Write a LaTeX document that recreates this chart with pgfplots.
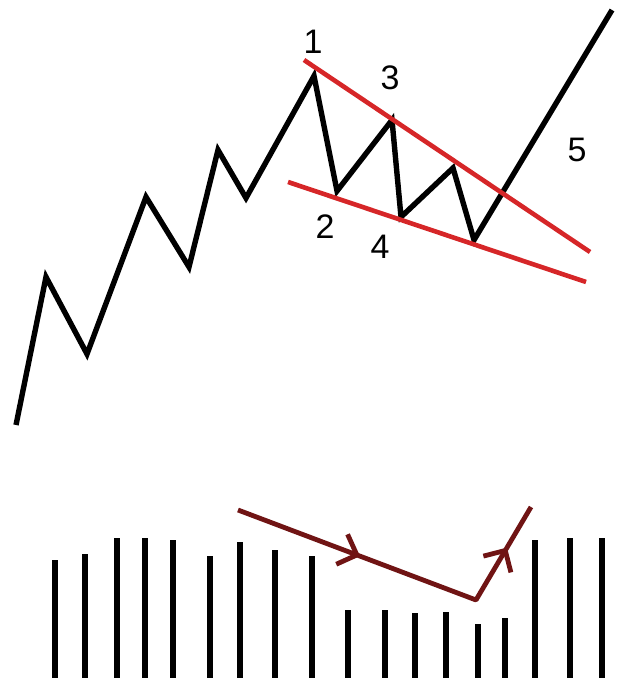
\documentclass[border=0pt]{standalone}
\usepackage{fontspec}
\setmainfont{Liberation Sans}
\usepackage{pgfplots}
\pgfplotsset{compat=1.18}
\usetikzlibrary{arrows.meta,decorations.markings}

\definecolor{trend}{RGB}{214,38,40}
\definecolor{volarrow}{RGB}{112,20,20}

\begin{document}
\begin{tikzpicture}
\begin{axis}[
    scale only axis,
    width=308.5pt, height=339pt,
    xmin=0, xmax=617, ymin=0, ymax=678,
    hide axis,
  ]
  % volume bars
  \addplot[ycomb, black, line width=2.6pt] coordinates {
    (55,118) (85,124) (117,140) (145,140) (173,138) (210,122)
    (240,136) (275,128) (312,122) (348,68) (385,68) (415,65)
    (446,66) (478,54) (505,60) (535,138) (570,140) (602,140)};
  % price path
  \addplot[black, line width=2.7pt, line join=miter] coordinates {
    (16,253) (46,401) (87,324) (146,481) (189,411) (218,528)
    (246,480) (314,602) (337,487) (392,558) (401,461) (453,510)
    (474,438) (612,668)};
  % wedge boundaries
  \addplot[trend, line width=2.3pt] coordinates {(304,618) (590,426)};
  \addplot[trend, line width=2.3pt] coordinates {(288,496) (586,396)};
  % volume trend arrow
  \addplot[volarrow, line width=2.4pt, line join=round,
    postaction={decorate},
    decoration={markings,
      mark=at position 0.36 with {\arrow{Straight Barb[length=8pt,width=16pt,line width=2.4pt]}},
      mark=at position 0.87 with {\arrow{Straight Barb[length=8pt,width=16pt,line width=2.4pt]}}}]
    coordinates {(238,168) (476,78) (531,171)};
  \node[font=\fontsize{17}{20}\selectfont] at (axis cs:313,636) {1};
  \node[font=\fontsize{17}{20}\selectfont] at (axis cs:390,600) {3};
  \node[font=\fontsize{17}{20}\selectfont] at (axis cs:577,528) {5};
  \node[font=\fontsize{17}{20}\selectfont] at (axis cs:325,451) {2};
  \node[font=\fontsize{17}{20}\selectfont] at (axis cs:380,431) {4};
  \coordinate (SW) at (rel axis cs:0,0);
  \coordinate (NE) at (rel axis cs:1,1);
\end{axis}
\pgfresetboundingbox
\path (SW) rectangle (NE);
\end{tikzpicture}
\end{document}
